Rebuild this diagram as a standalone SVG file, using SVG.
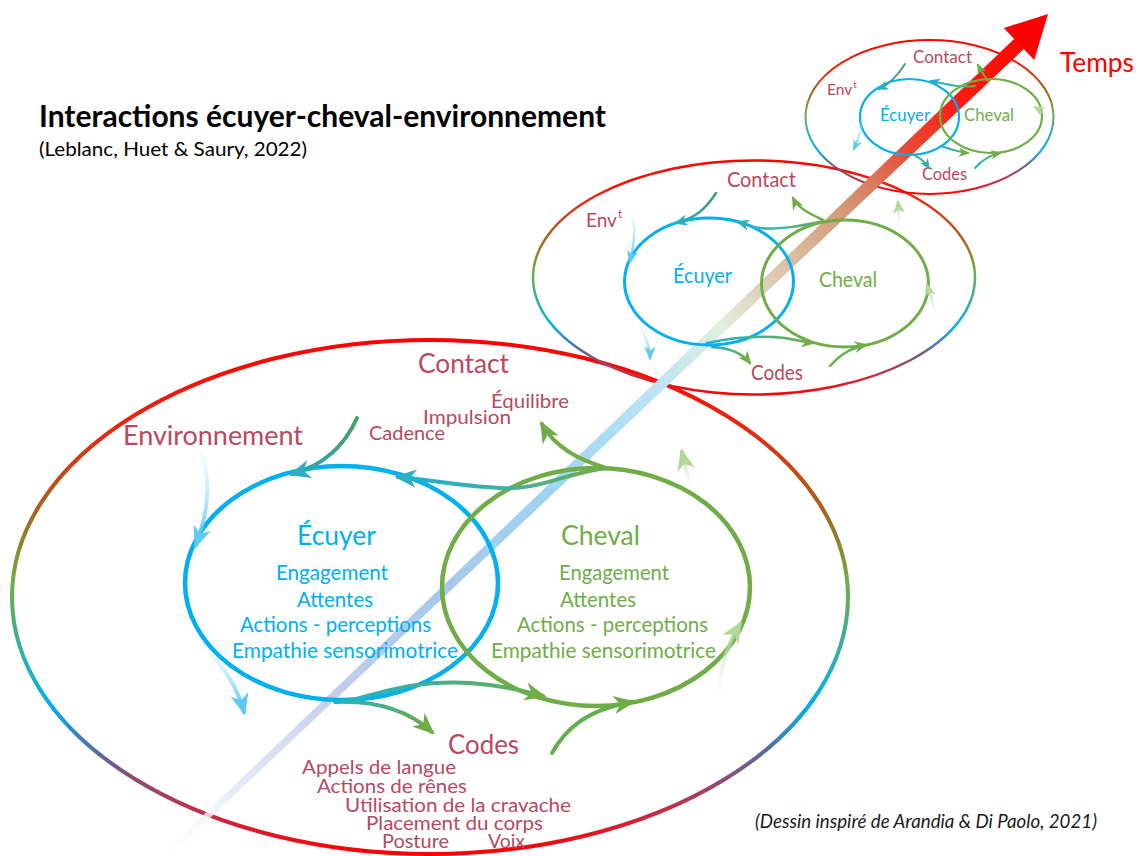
<svg xmlns="http://www.w3.org/2000/svg" width="1136" height="856" viewBox="0 0 1136 856">
<style>
.t{font-family:Lato,"Open Sans","Liberation Sans",sans-serif}
.r{fill:#b94860}
.b{fill:#00b0f0}
.g{fill:#70ad47}
.c{fill:none;stroke-linecap:round}
.big{stroke-width:4}
.mid{stroke-width:2.5}
.sm{stroke-width:2}
</style>
<defs>
<linearGradient id="gOuter" x1="0" y1="0" x2="0" y2="1">
<stop offset="0" stop-color="#ff0000"/>
<stop offset="0.18" stop-color="#e8280f"/>
<stop offset="0.33" stop-color="#a9621e"/>
<stop offset="0.47" stop-color="#70ad47"/>
<stop offset="0.6" stop-color="#35b09e"/>
<stop offset="0.71" stop-color="#00b0f0"/>
<stop offset="0.82" stop-color="#6a5f8e"/>
<stop offset="0.91" stop-color="#c0304a"/>
<stop offset="1" stop-color="#ff0000"/>
</linearGradient>
<linearGradient id="gTime" gradientUnits="userSpaceOnUse" x1="165" y1="856" x2="1048" y2="14">
<stop offset="0" stop-color="#ffffff" stop-opacity="0.5"/>
<stop offset="0.08" stop-color="#e6ecf7"/>
<stop offset="0.2" stop-color="#c2cdeb"/>
<stop offset="0.32" stop-color="#a5c9ec"/>
<stop offset="0.45" stop-color="#9fd6f2"/>
<stop offset="0.56" stop-color="#bfe4f4"/>
<stop offset="0.63" stop-color="#e2eedf"/>
<stop offset="0.7" stop-color="#dcc3a8"/>
<stop offset="0.78" stop-color="#d4906e"/>
<stop offset="0.84" stop-color="#e84a36"/>
<stop offset="0.9" stop-color="#ff1a10"/>
<stop offset="1" stop-color="#ff0000"/>
</linearGradient>
<linearGradient id="gLBv" x1="0" y1="0" x2="0" y2="1">
<stop offset="0" stop-color="#c8ecfb" stop-opacity="0.15"/>
<stop offset="1" stop-color="#4cc3f3"/>
</linearGradient>
<linearGradient id="gLGv" x1="0" y1="1" x2="0" y2="0">
<stop offset="0" stop-color="#ffffff" stop-opacity="0"/>
<stop offset="1" stop-color="#a3cd85"/>
</linearGradient>
<linearGradient id="gRL" x1="1" y1="0" x2="0" y2="0">
<stop offset="0" stop-color="#70ad47"/>
<stop offset="0.45" stop-color="#45b09a"/>
<stop offset="1" stop-color="#18b0e0"/>
</linearGradient>
<linearGradient id="gLR" x1="0" y1="0" x2="1" y2="0">
<stop offset="0" stop-color="#1fb2c8"/>
<stop offset="1" stop-color="#70ad47"/>
</linearGradient>
<linearGradient id="gCad" x1="1" y1="0" x2="0" y2="1">
<stop offset="0" stop-color="#4a9e66"/>
<stop offset="1" stop-color="#2aa8b8"/>
</linearGradient>
<marker id="mLB" viewBox="0 0 12 10" refX="10" refY="5" markerWidth="5.5" markerHeight="5" orient="auto"><path d="M12,5 L0,0 L3.5,5 L0,10 Z" fill="#5ccaf5"/></marker>
<marker id="mT" viewBox="0 0 12 10" refX="10" refY="5" markerWidth="5.5" markerHeight="5" orient="auto"><path d="M12,5 L0,0 L3.5,5 L0,10 Z" fill="#2eb0c0"/></marker>
<marker id="mG" viewBox="0 0 12 10" refX="10" refY="5" markerWidth="5.5" markerHeight="5" orient="auto"><path d="M12,5 L0,0 L3.5,5 L0,10 Z" fill="#70ad47"/></marker>
<marker id="mLG" viewBox="0 0 12 10" refX="10" refY="5" markerWidth="5.5" markerHeight="5" orient="auto"><path d="M12,5 L0,0 L3.5,5 L0,10 Z" fill="#b2d79a"/></marker>
</defs>
<rect width="1136" height="856" fill="#ffffff"/>

<g id="title">
<text class="t" x="39" y="127" font-size="30" font-weight="bold" fill="#000" textLength="567" lengthAdjust="spacingAndGlyphs">Interactions écuyer-cheval-environnement</text>
<text class="t" x="39" y="156" font-size="20" fill="#000" textLength="268" lengthAdjust="spacingAndGlyphs">(Leblanc, Huet &amp; Saury, 2022)</text>
</g>

<g id="environnement-large"><ellipse cx="430" cy="597" rx="418" ry="257" fill="none" stroke="url(#gOuter)" stroke-width="4"/></g>
<g id="environnement-medium"><ellipse cx="754" cy="277.5" rx="221" ry="117" fill="none" stroke="url(#gOuter)" stroke-width="2.5"/></g>
<g id="environnement-small"><ellipse cx="929.5" cy="117" rx="124" ry="77" fill="none" stroke="url(#gOuter)" stroke-width="2"/></g>

<g id="temps">
<polygon points="165.2,860.3 160.8,855.7 1017.2,35.9 1026.8,46.1" fill="url(#gTime)"/>
<polygon points="1048,14 1034.2,59.9 1003.8,28.1" fill="#ff0000"/>
<text class="t" x="1060" y="72" font-size="26" fill="#ff0000" textLength="74" lengthAdjust="spacingAndGlyphs">Temps</text>
</g>

<g id="ecuyer-large">
<ellipse cx="341.5" cy="583" rx="156.5" ry="117" fill="none" stroke="#00b0f0" stroke-width="4.5"/>
<text class="t b" x="297" y="545" font-size="26" textLength="79" lengthAdjust="spacingAndGlyphs">Écuyer</text>
<text class="t b" x="276" y="580" font-size="20.5" textLength="112" lengthAdjust="spacingAndGlyphs">Engagement</text>
<text class="t b" x="297" y="607" font-size="20.5" textLength="76" lengthAdjust="spacingAndGlyphs">Attentes</text>
<text class="t b" x="240" y="632" font-size="20.5" textLength="191" lengthAdjust="spacingAndGlyphs">Actions - perceptions</text>
<text class="t b" x="232" y="658" font-size="20.5" textLength="226" lengthAdjust="spacingAndGlyphs">Empathie sensorimotrice</text>
</g>
<g id="cheval-large">
<ellipse cx="596" cy="587" rx="154" ry="119" fill="none" stroke="#70ad47" stroke-width="4.5"/>
<text class="t g" x="561" y="545" font-size="26" textLength="79" lengthAdjust="spacingAndGlyphs">Cheval</text>
<text class="t g" x="559" y="580" font-size="20.5" textLength="110" lengthAdjust="spacingAndGlyphs">Engagement</text>
<text class="t g" x="560" y="607" font-size="20.5" textLength="76" lengthAdjust="spacingAndGlyphs">Attentes</text>
<text class="t g" x="517" y="632" font-size="20.5" textLength="191" lengthAdjust="spacingAndGlyphs">Actions - perceptions</text>
<text class="t g" x="491" y="658" font-size="20.5" textLength="225" lengthAdjust="spacingAndGlyphs">Empathie sensorimotrice</text>
</g>
<g id="labels-large">
<text class="t r" x="123" y="445" font-size="26" textLength="180" lengthAdjust="spacingAndGlyphs">Environnement</text>
<text class="t r" x="418" y="373" font-size="26" textLength="91" lengthAdjust="spacingAndGlyphs">Contact</text>
<text class="t r" x="491" y="408" font-size="20" textLength="78" lengthAdjust="spacingAndGlyphs">Équilibre</text>
<text class="t r" x="423" y="424" font-size="20" textLength="88" lengthAdjust="spacingAndGlyphs">Impulsion</text>
<text class="t r" x="369" y="440" font-size="20" textLength="76" lengthAdjust="spacingAndGlyphs">Cadence</text>
<text class="t r" x="448" y="754" font-size="26" textLength="71" lengthAdjust="spacingAndGlyphs">Codes</text>
<text class="t r" x="302" y="774" font-size="18.5" textLength="154" lengthAdjust="spacingAndGlyphs">Appels de langue</text>
<text class="t r" x="317" y="793" font-size="18.5" textLength="150" lengthAdjust="spacingAndGlyphs">Actions de rênes</text>
<text class="t r" x="345" y="812" font-size="18.5" textLength="226" lengthAdjust="spacingAndGlyphs">Utilisation de la cravache</text>
<text class="t r" x="366" y="830" font-size="18.5" textLength="177" lengthAdjust="spacingAndGlyphs">Placement du corps</text>
<text class="t r" x="382" y="848" font-size="18.5" textLength="67" lengthAdjust="spacingAndGlyphs">Posture</text>
<text class="t r" x="488" y="848" font-size="18.5" textLength="37" lengthAdjust="spacingAndGlyphs">Voix</text>
</g>

<g id="ecuyer-medium">
<ellipse cx="709" cy="281.5" rx="84.5" ry="63.5" fill="none" stroke="#00b0f0" stroke-width="3"/>
<text class="t b" x="673" y="283" font-size="20.5" textLength="59" lengthAdjust="spacingAndGlyphs">Écuyer</text>
</g>
<g id="cheval-medium">
<ellipse cx="845" cy="283.5" rx="83.5" ry="63.5" fill="none" stroke="#70ad47" stroke-width="3"/>
<text class="t g" x="819" y="287" font-size="20.5" textLength="58" lengthAdjust="spacingAndGlyphs">Cheval</text>
</g>
<g id="labels-medium">
<text class="t r" x="727" y="187" font-size="20.5" textLength="69" lengthAdjust="spacingAndGlyphs">Contact</text>
<text class="t r" x="586" y="227" font-size="19">Env<tspan dx="1" dy="-9" font-size="12">t</tspan></text>
<text class="t r" x="751" y="380" font-size="20.5" textLength="52" lengthAdjust="spacingAndGlyphs">Codes</text>
</g>

<g id="ecuyer-small">
<ellipse cx="909.5" cy="117" rx="49.5" ry="38" fill="none" stroke="#00b0f0" stroke-width="2.2"/>
<text class="t b" x="880" y="121" font-size="17" textLength="50" lengthAdjust="spacingAndGlyphs">Écuyer</text>
</g>
<g id="cheval-small">
<ellipse cx="991" cy="116" rx="51" ry="37" fill="none" stroke="#70ad47" stroke-width="2.2"/>
<text class="t g" x="964" y="121" font-size="17" textLength="50" lengthAdjust="spacingAndGlyphs">Cheval</text>
</g>
<g id="labels-small">
<text class="t r" x="913" y="63" font-size="17" textLength="59" lengthAdjust="spacingAndGlyphs">Contact</text>
<text class="t r" x="827" y="95" font-size="15.5">Env<tspan dx="1" dy="-7" font-size="10">t</tspan></text>
<text class="t r" x="922" y="180" font-size="17" textLength="45" lengthAdjust="spacingAndGlyphs">Codes</text>
</g>

<g id="connectors">
<path class="c big" d="M201,452 C212,485 207,515 196,545" stroke="url(#gLBv)" marker-end="url(#mLB)"/>
<path class="c big" d="M203,645 C222,665 237,685 244,712" stroke="url(#gLBv)" marker-end="url(#mLB)"/>
<path class="c big" d="M357,418 C345,445 325,465 292,474" stroke="url(#gCad)" marker-end="url(#mT)"/>
<path class="c big" d="M605,468 C560,475 540,490 500,488 C460,486 430,480 398,477" stroke="url(#gRL)" marker-end="url(#mT)"/>
<path class="c big" d="M606,468 C580,460 555,448 542,424" stroke="#70ad47" marker-end="url(#mG)"/>
<path class="c big" d="M690,490 C688,475 685,465 682,452" stroke="url(#gLGv)" marker-end="url(#mLG)"/>
<path class="c big" d="M719,703 C718,670 727,645 740,624" stroke="url(#gLGv)" marker-end="url(#mLG)"/>
<path class="c big" d="M345,702 C390,690 420,680 470,683 C500,685 520,690 543,696" stroke="url(#gLR)" marker-end="url(#mG)"/>
<path class="c big" d="M335,702 C380,700 410,712 432,732" stroke="url(#gLR)" marker-end="url(#mG)"/>
<path class="c big" d="M552,753 C565,730 585,710 632,702" stroke="#62b04c" marker-end="url(#mG)"/>

<path class="c mid" d="M632,212 C636,230 634,245 630,262" stroke="url(#gLBv)" marker-end="url(#mLB)"/>
<path class="c mid" d="M640,326 C645,335 650,345 650,358" stroke="url(#gLBv)" marker-end="url(#mLB)"/>
<path class="c mid" d="M716,193 C705,210 695,218 676,223" stroke="url(#gCad)" marker-end="url(#mT)"/>
<path class="c mid" d="M824,221 C800,226 780,230 760,228 C750,227 745,224 738,222" stroke="url(#gRL)" marker-end="url(#mT)"/>
<path class="c mid" d="M823,220 C810,214 798,208 793,198" stroke="#70ad47" marker-end="url(#mG)"/>
<path class="c mid" d="M898,230 C899,220 899,212 898,202" stroke="url(#gLGv)" marker-end="url(#mLG)"/>
<path class="c mid" d="M937,320 C935,305 930,295 927,285" stroke="url(#gLGv)" marker-end="url(#mLG)"/>
<path class="c mid" d="M707,343 C730,338 760,335 785,338 C795,340 805,342 813,343" stroke="url(#gLR)" marker-end="url(#mG)"/>
<path class="c mid" d="M712,347 C730,348 742,353 750,363" stroke="url(#gLR)" marker-end="url(#mG)"/>
<path class="c mid" d="M830,366 C840,355 850,348 866,345" stroke="#62b04c" marker-end="url(#mG)"/>

<path class="c sm" d="M862,118 C862,130 858,140 854,149" stroke="url(#gLBv)" marker-end="url(#mLB)"/>
<path class="c sm" d="M905,64 C898,75 890,84 879,89" stroke="url(#gCad)" marker-end="url(#mT)"/>
<path class="c sm" d="M975,86 C960,88 945,84 931,81" stroke="url(#gRL)" marker-end="url(#mT)"/>
<path class="c sm" d="M988,81 C984,75 981,71 978,65" stroke="#70ad47" marker-end="url(#mG)"/>
<path class="c sm" d="M1050,122 C1045,115 1040,110 1035,107" stroke="url(#gLGv)" marker-end="url(#mLG)"/>
<path class="c sm" d="M941,146 C950,149 958,152 968,153" stroke="url(#gLR)" marker-end="url(#mG)"/>
<path class="c sm" d="M914,155 C920,158 925,162 929,168" stroke="url(#gLR)" marker-end="url(#mT)"/>
<path class="c sm" d="M975,168 C982,160 990,155 1000,153" stroke="url(#gLR)" marker-end="url(#mG)"/>
</g>

<g id="source">
<text class="t" x="755" y="828" font-size="19" font-style="italic" fill="#1a1a1a" textLength="342" lengthAdjust="spacingAndGlyphs">(Dessin inspiré de Arandia &amp; Di Paolo, 2021)</text>
</g>
</svg>
